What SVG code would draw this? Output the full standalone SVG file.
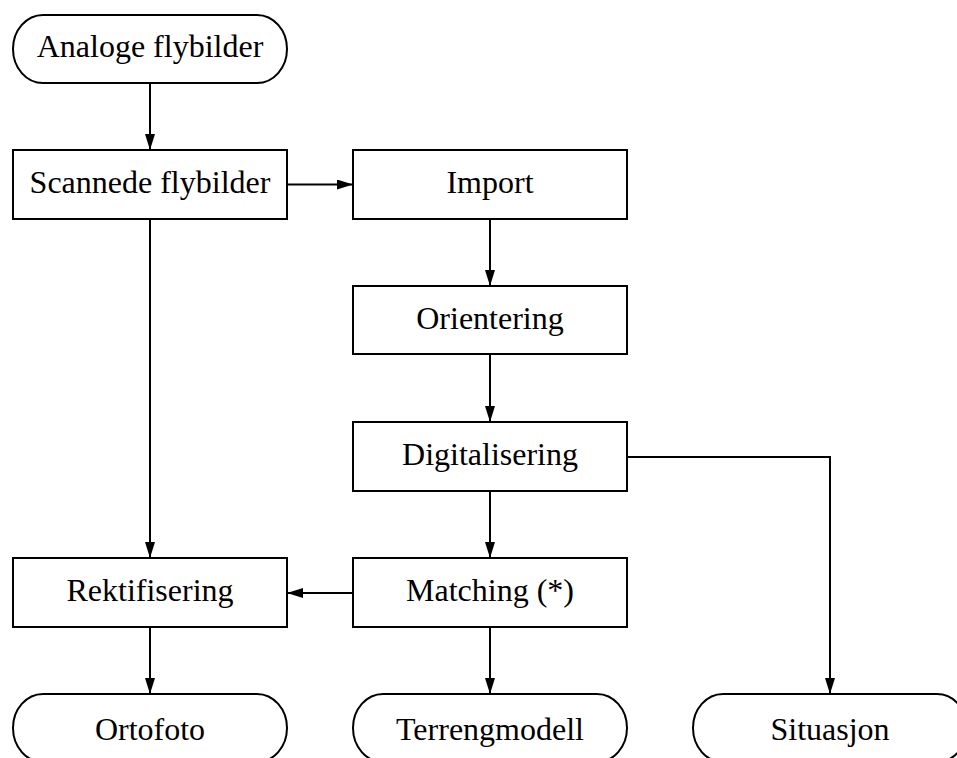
<svg xmlns="http://www.w3.org/2000/svg" width="957" height="758" viewBox="0 0 957 758">
<style>
.box{fill:#fff;stroke:#000;stroke-width:2}
.lbl{font-family:"Liberation Serif","Times New Roman",serif;font-size:32px;fill:#000;text-anchor:middle}
.con{fill:none;stroke:#000;stroke-width:2}
</style>
<defs>
<marker id="arr" markerWidth="16" markerHeight="10" refX="16" refY="5" orient="auto" markerUnits="userSpaceOnUse">
<path d="M0,0 L16,5 L0,10 Z" fill="#000"/>
</marker>
</defs>
<rect width="957" height="758" fill="#fff"/>
<g id="connectors">
<path class="con" d="M150,83 V150" marker-end="url(#arr)"/>
<path class="con" d="M287,184.5 H353" marker-end="url(#arr)"/>
<path class="con" d="M150,219 V558" marker-end="url(#arr)"/>
<path class="con" d="M490,219 V286" marker-end="url(#arr)"/>
<path class="con" d="M490,354 V422" marker-end="url(#arr)"/>
<path class="con" d="M490,491 V558" marker-end="url(#arr)"/>
<path class="con" d="M627,457 H830 V694" marker-end="url(#arr)"/>
<path class="con" d="M353,593 H287" marker-end="url(#arr)"/>
<path class="con" d="M150,627 V694" marker-end="url(#arr)"/>
<path class="con" d="M490,627 V694" marker-end="url(#arr)"/>
</g>
<g id="analoge"><rect class="box" x="13" y="15" width="274" height="68" rx="30" ry="34"/><text class="lbl" x="150" y="57">Analoge flybilder</text></g>
<g id="scannede"><rect class="box" x="13" y="150" width="274" height="69"/><text class="lbl" x="150" y="193">Scannede flybilder</text></g>
<g id="import"><rect class="box" x="353" y="150" width="274" height="69"/><text class="lbl" x="490" y="193">Import</text></g>
<g id="orientering"><rect class="box" x="353" y="286" width="274" height="68"/><text class="lbl" x="490" y="329">Orientering</text></g>
<g id="digitalisering"><rect class="box" x="353" y="422" width="274" height="69"/><text class="lbl" x="490" y="465">Digitalisering</text></g>
<g id="matching"><rect class="box" x="353" y="558" width="274" height="69"/><text class="lbl" x="490" y="601">Matching (*)</text></g>
<g id="rektifisering"><rect class="box" x="13" y="558" width="274" height="69"/><text class="lbl" x="150" y="601">Rektifisering</text></g>
<g id="ortofoto"><rect class="box" x="13" y="694" width="274" height="68" rx="30" ry="34"/><text class="lbl" x="150" y="740">Ortofoto</text></g>
<g id="terrengmodell"><rect class="box" x="353" y="694" width="274" height="68" rx="30" ry="34"/><text class="lbl" x="490" y="740">Terrengmodell</text></g>
<g id="situasjon"><rect class="box" x="693" y="694" width="274" height="68" rx="30" ry="34"/><text class="lbl" x="830" y="740">Situasjon</text></g>
</svg>
